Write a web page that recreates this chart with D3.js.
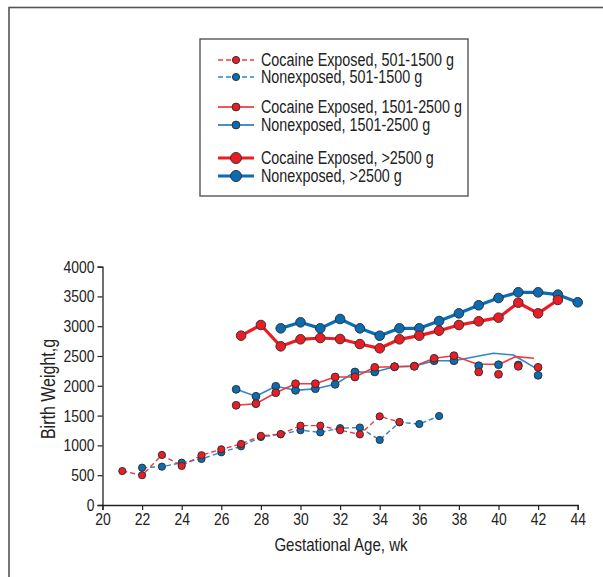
<!DOCTYPE html>
<html><head><meta charset="utf-8">
<script src="https://cdn.jsdelivr.net/npm/d3@7"></script>
<style>
html,body{margin:0;padding:0;background:#fff;}
svg text{font-family:"Liberation Sans",Arial,sans-serif;fill:#222;}
</style></head>
<body>
<svg id="chart" width="603" height="577"></svg>
<script>
// ---- data ----
const xTicks = [20,22,24,26,28,30,32,34,36,38,40,42,44];
const yTicks = [0,500,1000,1500,2000,2500,3000,3500,4000];

// 501-1500 g
const smallCocaineWeeks = [21,22,23,24,25,26,27,28,29,30,31,32,33,34,35];
const smallCocaine      = [570,500,840,655,835,935,1025,1160,1190,1331,1331,1255,1185,1488,1393];
const smallNonexpWeeks  = [22,23,24,25,26,27,28,29,30,31,32,33,34,35,36,37];
const smallNonexp       = [626,643,710,772,884,985,1141,1186,1255,1218,1290,1300,1091,1387,1359,1493];

// 1501-2500 g
const medWeeks    = [26.75,27.75,28.75,29.75,30.75,31.75,32.75,33.75,34.75,35.75,36.75,37.75];
const medNonexp   = [1941,1824,1992,1924,1951,2025,2232,2232,2320,2330,2421,2421];
const medCocaine  = [1673,1700,1884,2035,2035,2148,2148,2310,2320,2327,2461,2505];
const medNonexpTailWeeks  = [37.75,39,39.75,40.75,41.9];
const medNonexpTail       = [2421,2500,2545,2517,2293];
const medCocaineTailWeeks = [37.75,38.9,40.05,40.85,41.8];
const medCocaineTail      = [2505,2366,2360,2489,2461];
const medDotWeeks   = [39,40,41,42];
const medNonexpDots = [2337,2354,2349,2176];
const medCocaineDots= [2232,2193,2327,2310];

// >2500 g
const largeCocaineWeeks = [27,28,29,30,31,32,33,34,35,36,37,38,39,40,41,42,43];
const largeCocaine      = [2841,3020,2662,2780,2802,2785,2701,2629,2780,2841,2925,3020,3082,3143,3394,3216,3440];
const largeNonexpWeeks  = [29,30,31,32,33,34,35,36,37,38,39,40,41,42,43,44];
const largeNonexp       = [2964,3065,2964,3121,2964,2840,2964,2964,3087,3216,3351,3473,3569,3569,3529,3401];

const legendLabels = ["Cocaine Exposed, 501-1500 g","Nonexposed, 501-1500 g",
  "Cocaine Exposed, 1501-2500 g","Nonexposed, 1501-2500 g",
  "Cocaine Exposed, >2500 g","Nonexposed, >2500 g"];

// ---- styles ----
const RED = "#ec1c24", BLUE = "#0a6cb3", RED_L = "#ef3a40", BLUE_L = "#2f86cc";
const SX = 0.82; // condensed look
const styles = {
  small: {w:1.4, dash:"5,3", r:3.6},
  med:   {w:1.6, dash:null, r:3.9},
  large: {w:3.2, dash:null, r:4.8}
};

const svg = d3.select("#chart");
svg.append("rect").attr("x",9).attr("y",7.5).attr("width",700).attr("height",700)
  .attr("fill","none").attr("stroke","#555").attr("stroke-width",1.6);

const x = d3.scaleLinear().domain([20,44]).range([102.5,577.7]);
const y = d3.scaleLinear().domain([0,4000]).range([505,266.6]);

function ctext(px, py, str, size, anchor, rot){
  return svg.append("text")
    .attr("transform",`translate(${px},${py})${rot?` rotate(${rot})`:""} scale(${SX},1)`)
    .attr("text-anchor",anchor||"start").attr("font-size",size).text(str);
}

// axes
const xAxis = svg.append("g").attr("transform","translate(0,505)")
  .call(d3.axisBottom(x).tickValues(xTicks).tickSize(5).tickPadding(3).tickFormat(d3.format("d")));
const yAxis = svg.append("g").attr("transform","translate(102.5,0)")
  .call(d3.axisLeft(y).tickValues(yTicks).tickSize(5).tickPadding(3).tickFormat(d3.format("d")));
[xAxis,yAxis].forEach(g=>{
  g.select(".domain").attr("stroke","#222").attr("stroke-width",1.3);
  g.selectAll(".tick line").attr("stroke","#222").attr("stroke-width",1.2);
  g.selectAll(".tick text").attr("font-size",17).attr("fill","#222")
    .style("font-family",'"Liberation Sans",Arial,sans-serif');
});
xAxis.selectAll(".tick text").attr("transform",`scale(${SX},1)`);
yAxis.selectAll(".tick text").attr("x",-8/SX).attr("transform",`scale(${SX},1)`);

ctext(341, 551, "Gestational Age, wk", 18.4, "middle");
ctext(55, 389, "Birth Weight,g", 19.5, "middle", -90);

function zip(ws, vs){ return ws.map((w,i)=>({w, v:vs[i]})); }
const line = d3.line().x(d=>x(d.w)).y(d=>y(d.v));

function drawLine(data, color, st){
  svg.append("path").datum(data).attr("d",line).attr("fill","none")
    .attr("stroke",color).attr("stroke-width",st.w)
    .attr("stroke-dasharray",st.dash).attr("stroke-linejoin","round");
}
function drawDots(data, color, st){
  svg.append("g").selectAll("circle").data(data).join("circle")
    .attr("cx",d=>x(d.w)).attr("cy",d=>y(d.v)).attr("r",st.r)
    .attr("fill",color).attr("stroke","#333").attr("stroke-width",1);
}

// small
drawLine(zip(smallNonexpWeeks,smallNonexp), BLUE_L, styles.small);
drawLine(zip(smallCocaineWeeks,smallCocaine), RED_L, styles.small);
drawDots(zip(smallNonexpWeeks,smallNonexp), BLUE, styles.small);
drawDots(zip(smallCocaineWeeks,smallCocaine), RED, styles.small);
// medium
drawLine(zip(medNonexpTailWeeks,medNonexpTail), BLUE_L, styles.med);
drawLine(zip(medCocaineTailWeeks,medCocaineTail), RED_L, styles.med);
drawLine(zip(medWeeks,medNonexp), BLUE_L, styles.med);
drawLine(zip(medWeeks,medCocaine), RED_L, styles.med);
drawDots(zip(medWeeks,medNonexp), BLUE, styles.med);
drawDots(zip(medWeeks,medCocaine), RED, styles.med);
drawDots(zip(medDotWeeks,medNonexpDots), BLUE, styles.med);
drawDots(zip(medDotWeeks,medCocaineDots), RED, styles.med);
// large
drawLine(zip(largeNonexpWeeks,largeNonexp), BLUE, styles.large);
drawLine(zip(largeCocaineWeeks,largeCocaine), RED, styles.large);
drawDots(zip(largeNonexpWeeks,largeNonexp), BLUE, styles.large);
drawDots(zip(largeCocaineWeeks,largeCocaine), RED, styles.large);

// legend
svg.append("rect").attr("x",200).attr("y",39).attr("width",268).attr("height",157)
  .attr("fill","#fff").attr("stroke","#555").attr("stroke-width",1.4);
const legendRows = [60,77,107,125,158,176];
const legendStyle = [["small",RED],["small",BLUE],["med",RED],["med",BLUE],["large",RED],["large",BLUE]];
legendLabels.forEach((lab,i)=>{
  const cy = legendRows[i], st = styles[legendStyle[i][0]], c = legendStyle[i][1];
  const lc = st.dash ? (c===RED?RED_L:BLUE_L) : c;
  const mr = legendStyle[i][0]==="large" ? 5.5 : st.r;
  svg.append("line").attr("x1",218).attr("x2",254).attr("y1",cy).attr("y2",cy)
    .attr("stroke",lc).attr("stroke-width",st.w).attr("stroke-dasharray",st.dash);
  svg.append("circle").attr("cx",236).attr("cy",cy).attr("r",mr)
    .attr("fill",c).attr("stroke","#333").attr("stroke-width",1);
  ctext(261, cy + 6, lab, 17.5, "start");
});
</script>
</body></html>
